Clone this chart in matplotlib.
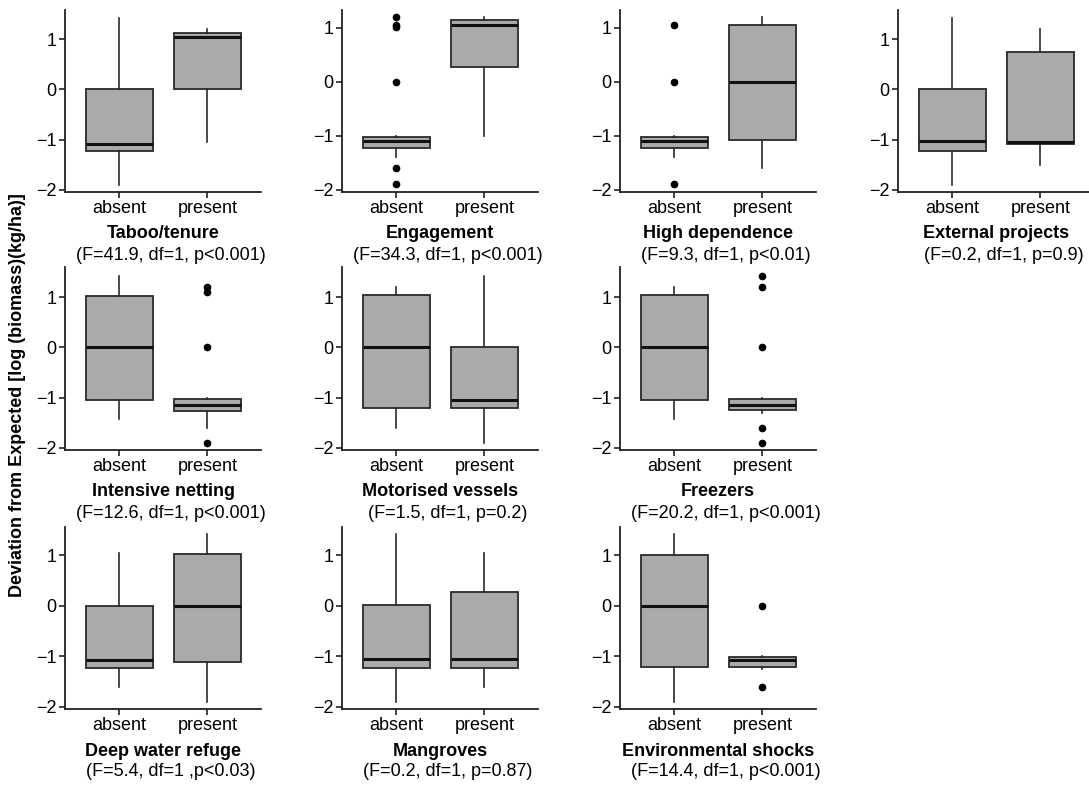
import matplotlib
matplotlib.use('Agg')
import matplotlib.pyplot as plt

# Data: per panel, [absent, present] box stats (whislo, q1, med, q3, whishi) and outliers
titles = ['Taboo/tenure', 'Engagement', 'High dependence', 'External projects',
          'Intensive netting', 'Motorised vessels', 'Freezers',
          'Deep water refuge', 'Mangroves', 'Environmental shocks']
stats = ['(F=41.9, df=1, p<0.001)', '(F=34.3, df=1, p<0.001)', '(F=9.3, df=1, p<0.01)',
         '(F=0.2, df=1, p=0.9)', '(F=12.6, df=1, p<0.001)', '(F=1.5, df=1, p=0.2)',
         '(F=20.2, df=1, p<0.001)', '(F=5.4, df=1 ,p<0.03)', '(F=0.2, df=1, p=0.87)',
         '(F=14.4, df=1, p<0.001)']
groups = ['absent', 'present']
boxes = [
    [(-1.9, -1.22, -1.08, 0.0, 1.42), (-1.05, 0.0, 1.05, 1.12, 1.2)],
    [(-1.4, -1.22, -1.1, -1.02, -1.0), (-1.0, 0.27, 1.05, 1.15, 1.2)],
    [(-1.4, -1.22, -1.1, -1.02, -1.0), (-1.6, -1.08, 0.0, 1.05, 1.2)],
    [(-1.9, -1.22, -1.02, 0.0, 1.42), (-1.5, -1.08, -1.05, 0.75, 1.2)],
    [(-1.42, -1.05, 0.0, 1.02, 1.42), (-1.6, -1.27, -1.15, -1.02, -1.0)],
    [(-1.6, -1.2, 0.0, 1.05, 1.2), (-1.9, -1.2, -1.05, 0.0, 1.42)],
    [(-1.42, -1.05, 0.0, 1.05, 1.2), (-1.3, -1.25, -1.15, -1.02, -1.0)],
    [(-1.6, -1.22, -1.08, 0.0, 1.05), (-1.9, -1.12, 0.0, 1.02, 1.42)],
    [(-1.9, -1.22, -1.05, 0.02, 1.42), (-1.6, -1.22, -1.05, 0.27, 1.05)],
    [(-1.9, -1.2, 0.0, 1.0, 1.42), (-1.25, -1.2, -1.08, -1.02, -1.0)],
]
outliers = [
    [[], []],
    [[1.2, 1.05, 1.02, 0.0, -1.6, -1.9], []],
    [[1.05, 0.0, -1.9], []],
    [[], []],
    [[], [1.2, 1.1, 0.0, -1.9]],
    [[], []],
    [[], [1.42, 1.2, 0.0, -1.6, -1.9]],
    [[], []],
    [[], []],
    [[], [0.0, -1.6]],
]
ytops = [1.58, 1.33, 1.33, 1.58, 1.6, 1.6, 1.6, 1.56, 1.56, 1.56]

W, H = 1089, 787
fig = plt.figure(figsize=(W / 100, H / 100), dpi=100)
plt.rcParams['font.family'] = ['Liberation Sans', 'DejaVu Sans']

col_left = [65, 342, 620, 898]
row_top = [10, 267, 527]
row_bot = [192, 450, 709]
cells = [(0, 0), (0, 1), (0, 2), (0, 3), (1, 0), (1, 1), (1, 2), (2, 0), (2, 1), (2, 2)]

for i, (r, c) in enumerate(cells):
    x0 = col_left[c]
    ax = fig.add_axes([x0 / W, 1 - row_bot[r] / H, 196 / W, (row_bot[r] - row_top[r]) / H])
    bxp = []
    for j in range(2):
        lo, q1, med, q3, hi = boxes[i][j]
        bxp.append(dict(whislo=lo, q1=q1, med=med, q3=q3, whishi=hi,
                        fliers=outliers[i][j], label=groups[j]))
    ax.bxp(bxp, positions=[1, 2], widths=0.76, patch_artist=True, showcaps=False,
           boxprops=dict(facecolor='#aaaaaa', edgecolor='#2a2a2a', linewidth=1.3),
           medianprops=dict(color='#111111', linewidth=2.2),
           whiskerprops=dict(color='#2a2a2a', linewidth=1.2),
           flierprops=dict(marker='o', markerfacecolor='black', markeredgecolor='black',
                           markersize=4.5))
    ax.set_xlim(0.38, 2.61)
    ax.set_ylim(-2.04, ytops[i])
    ax.set_yticks([-2, -1, 0, 1])
    ax.set_yticklabels(['\u22122', '\u22121', '0', '1'])
    for s in ['top', 'right']:
        ax.spines[s].set_visible(False)
    for s in ['left', 'bottom']:
        ax.spines[s].set_linewidth(1.3)
        ax.spines[s].set_color('#222222')
    ax.tick_params(labelsize=13, length=4, width=1.2, color='#222222', pad=2)
    cx = (x0 + 98) / W
    fig.text(cx, 1 - (row_bot[r] + 42) / H, titles[i], ha='center', va='center',
             fontsize=13, fontweight='bold')
    fig.text(cx + 8 / W, 1 - (row_bot[r] + 63) / H, stats[i], ha='center', va='center',
             fontsize=13)

fig.text(18 / W, 1 - 395 / H, 'Deviation from Expected [log (biomass)(kg/ha)]',
         rotation=90, ha='center', va='center', fontsize=13, fontweight='bold')

fig.savefig('out.png', dpi=100)
